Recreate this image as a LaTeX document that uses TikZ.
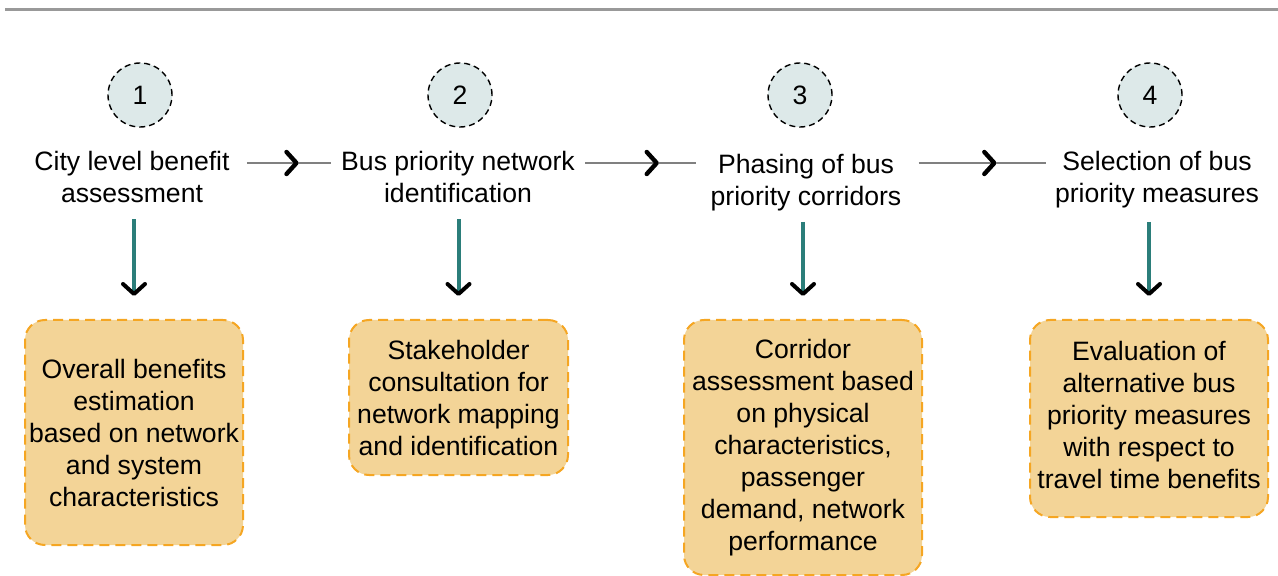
\documentclass[tikz,border=0pt]{standalone}
\usepackage{fontspec}
\setmainfont{Liberation Sans}
\usetikzlibrary{arrows.meta,decorations.markings}

\definecolor{stepfill}{HTML}{DDE9E9}
\definecolor{boxfill}{HTML}{F3D497}
\definecolor{boxline}{HTML}{F5A623}
\definecolor{downline}{HTML}{2B7E7A}

\begin{document}
\begin{tikzpicture}[x=0.5pt,y=-0.5pt,
font=\fontsize{13.3}{16}\selectfont,
num/.style={circle, draw=black, fill=stepfill, line width=0.7pt, dash pattern=on 3pt off 2pt, minimum size=32pt, inner sep=0pt},
title/.style={align=center, inner sep=0pt},
detail/.style={draw=boxline, fill=boxfill, line width=1pt, dash pattern=on 5pt off 3pt, rounded corners=10pt, align=center, inner sep=2pt},
flow/.style={gray, line width=0.7pt, postaction={decorate},
  decoration={markings, mark=at position 0.62 with {\arrow{Straight Barb[color=black, round, length=5pt, width=11pt, line width=2.2pt]}}}},
down/.style={downline, line width=2pt, shorten <=8pt, shorten >=11.5pt,
  -{Straight Barb[color=black, round, length=5pt, width=11pt, line width=2pt]}}]

\useasboundingbox (0,0) rectangle (1278,576);

% rule on top
\draw[gray!80, line width=1.5pt] (5,10) -- (1278,10);

% step numbers
\node[num] (n1) at (140,95) {1};
\node[num] (n2) at (460,95) {2};
\node[num] (n3) at (800,95) {3};
\node[num] (n4) at (1150,95) {4};

% step titles
\node[title] (t1) at (132,177) {City level benefit\\assessment};
\node[title] (t2) at (458,177) {Bus priority network\\identification};
\node[title] (t3) at (806,183) {Phasing of bus\\priority corridors};
\node[title] (t4) at (1157,180) {Selection of bus\\priority measures};

% details
\node[detail, minimum width=109pt, minimum height=112.5pt] (b1) at (134,432.5)
  {Overall benefits\\estimation\\based on network\\and system\\characteristics};
\node[detail, minimum width=109.5pt, minimum height=77.5pt] (b2) at (458.5,397.5)
  {Stakeholder\\consultation for\\network mapping\\and identification};
\node[detail, minimum width=119pt, minimum height=127.5pt] (b3) at (803,447.5)
  {Corridor\\assessment based\\on physical\\characteristics,\\passenger\\demand, network\\performance};
\node[detail, minimum width=119pt, minimum height=98.5pt, text depth=4pt] (b4) at (1149,418.5)
  {Evaluation of\\alternative bus\\priority measures\\with respect to\\travel time benefits};

% flow between steps
\draw[flow, shorten <=8.5pt, shorten >=5pt] ([yshift=7pt]t1.east) -- ([yshift=7pt]t2.west);
\draw[flow, shorten <=5pt, shorten >=7pt] ([yshift=7pt]t2.east) -- ([yshift=10pt]t3.west);
\draw[flow, shorten <=8.5pt, shorten >=4.5pt] ([yshift=10pt]t3.east) -- ([yshift=8.5pt]t4.west);

% down to details
\draw[down] (t1.south -| b1.north) -- (b1.north);
\draw[down] (t2.south -| b2.north) -- (b2.north);
\draw[down, shorten <=5pt] (t3.south -| b3.north) -- (b3.north);
\draw[down, shorten <=6.5pt] (t4.south -| b4.north) -- (b4.north);
\end{tikzpicture}
\end{document}
